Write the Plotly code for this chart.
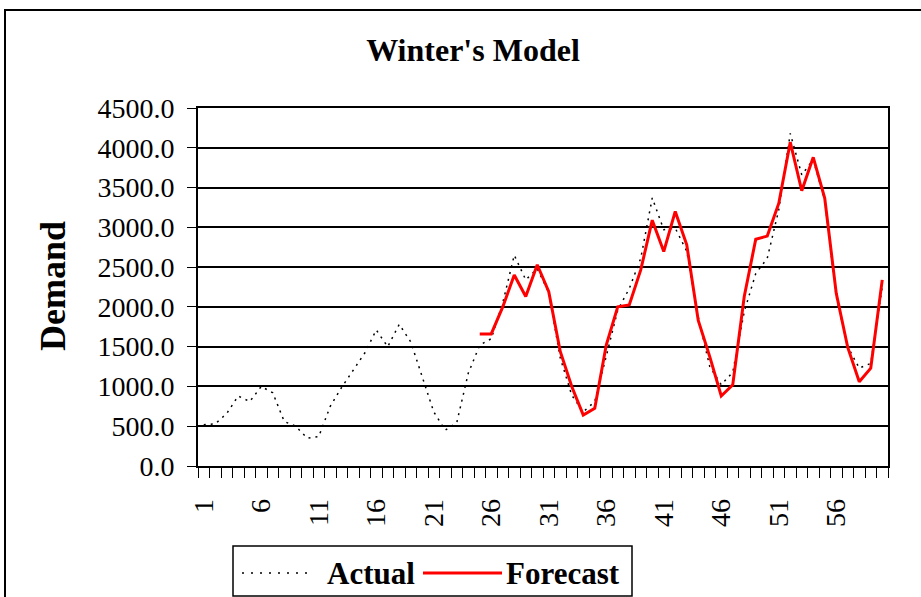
import plotly.graph_objects as go

# Period index and demand series
periods = list(range(1, 61))

actual = [520, 530, 660, 880, 810, 1000, 920, 560, 500, 350,
          370, 750, 990, 1200, 1420, 1710, 1500, 1780, 1560, 1120,
          680, 450, 545, 1165, 1520, 1600, 2050, 2650, 2340, 2480,
          2180, 1360, 890, 680, 810, 1380, 1960, 2230, 2610, 3370,
          2970, 2990, 2700, 1870, 1250, 1020, 1180, 1940, 2420, 2610,
          3220, 4180, 3660, 3850, 3340, 2130, 1500, 1230, 1290, 2250]

forecast = [None] * 24 + [
          1660, 1660, 2000, 2400, 2130, 2530,
          2190, 1440, 1000, 640, 725, 1520, 2000, 2025, 2465, 3090,
          2695, 3200, 2780, 1830, 1375, 880, 1020, 2130, 2850, 2890,
          3300, 4070, 3460, 3880, 3365, 2170, 1490, 1060, 1230, 2340]

x_ticks = list(range(1, 60, 5))
y_ticks = [0, 500, 1000, 1500, 2000, 2500, 3000, 3500, 4000, 4500]

SERIF = "Times New Roman, Liberation Serif, serif"

W, H = 921, 597
ML, MR, MT, MB = 198, 33, 108, 131
PW, PH = W - ML - MR, H - MT - MB


def px_x(px):
    return (px - ML) / PW


def px_y(py):
    return (H - MB - py) / PH


fig = go.Figure()
fig.add_trace(go.Scatter(
    x=periods, y=actual, name="Actual", mode="lines",
    line=dict(color="black", width=1.5, dash="2px,5px"),
    showlegend=False))
fig.add_trace(go.Scatter(
    x=periods, y=forecast, name="Forecast", mode="lines",
    line=dict(color="#ff0000", width=3),
    showlegend=False))

fig.update_layout(
    width=W, height=H,
    margin=dict(l=ML, r=MR, t=MT, b=MB),
    paper_bgcolor="white", plot_bgcolor="white",
    font=dict(family=SERIF, color="black"),
    title=dict(text="<b>Winter's Model</b>", x=473 / W, xanchor="center",
               y=1 - 50 / H, yanchor="middle",
               font=dict(family=SERIF, size=32, color="black")),
)

fig.update_xaxes(
    range=[0.5, 60.5], tickmode="array", tickvals=x_ticks,
    ticktext=[str(v) for v in x_ticks], tickangle=-90,
    ticks="", ticklen=10, ticklabelstandoff=20,
    tickfont=dict(family=SERIF, size=28, color="black"),
    showgrid=False, zeroline=False,
    showline=True, linecolor="black", linewidth=1.5, mirror=True,
    minor=dict(tickmode="linear", tick0=0.5, dtick=1, ticks="outside",
               ticklen=10, tickwidth=1.3, tickcolor="black", showgrid=False),
)

fig.update_yaxes(
    range=[0, 4500], tickmode="array", tickvals=y_ticks, tickformat=".1f",
    ticks="outside", ticklen=9, tickwidth=1.3, tickcolor="black",
    ticklabelstandoff=7,
    tickfont=dict(family=SERIF, size=28, color="black"),
    showgrid=True, gridcolor="black", gridwidth=1.6, zeroline=False,
    showline=True, linecolor="black", linewidth=1.6, mirror=True,
)

# Y-axis caption
fig.add_annotation(text="<b>Demand</b>", textangle=-90, showarrow=False,
                   xref="paper", yref="paper", x=px_x(53), y=px_y(286),
                   xanchor="center", yanchor="middle",
                   font=dict(family=SERIF, size=36, color="black"))

# Chart frame
fig.add_shape(type="rect", xref="paper", yref="paper",
              x0=px_x(5), x1=px_x(940), y0=px_y(10), y1=px_y(620),
              line=dict(color="black", width=2), fillcolor="rgba(0,0,0,0)",
              layer="below")

# Legend key
LEG_Y = 573
fig.add_shape(type="rect", xref="paper", yref="paper",
              x0=px_x(233), x1=px_x(632), y0=px_y(546), y1=px_y(596),
              line=dict(color="black", width=1.5), fillcolor="white")
fig.add_shape(type="line", xref="paper", yref="paper",
              x0=px_x(242), x1=px_x(309), y0=px_y(LEG_Y), y1=px_y(LEG_Y),
              line=dict(color="black", width=1.5, dash="2px,7px"))
fig.add_shape(type="line", xref="paper", yref="paper",
              x0=px_x(423), x1=px_x(502), y0=px_y(LEG_Y), y1=px_y(LEG_Y),
              line=dict(color="#ff0000", width=3))
for label, left in (("Actual", 325), ("Forecast", 504)):
    fig.add_annotation(text=f"<b>{label}</b>", showarrow=False,
                       xref="paper", yref="paper", x=px_x(left), y=px_y(LEG_Y),
                       xanchor="left", yanchor="middle",
                       font=dict(family=SERIF, size=31, color="black"))

fig.write_html("out.html")
